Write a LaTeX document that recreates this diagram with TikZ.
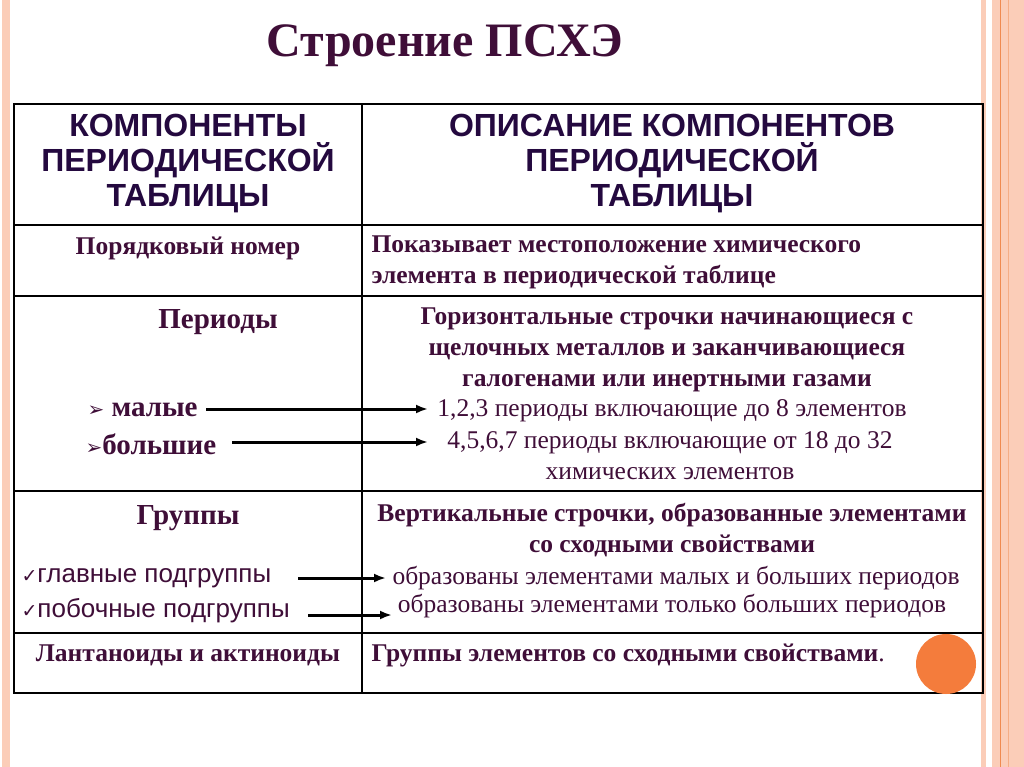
\documentclass[tikz,border=0pt]{standalone}
\usepackage{fontspec}
\setmainfont{Liberation Serif}
\newfontfamily\hsans{Liberation Sans}
\newfontfamily\djv{DejaVu Sans}
\usetikzlibrary{arrows.meta}
\definecolor{txt}{HTML}{3F0E38}
\definecolor{hdr}{HTML}{24093F}
\definecolor{peach}{HTML}{FBCDB8}
\definecolor{orng}{HTML}{F08A50}
\definecolor{circ}{HTML}{F47C3C}
\tikzset{
 tb/.style={font=\bfseries\fontsize{25.5}{31}\selectfont, text=txt, align=center},
 tr/.style={font=\fontsize{25.5}{31}\selectfont, text=txt, align=center},
 th/.style={font=\hsans\bfseries\fontsize{32}{35}\selectfont, text=hdr, align=center},
 ts/.style={font=\hsans\fontsize{26}{30}\selectfont, text=txt, anchor=west},
 big/.style={font=\bfseries\fontsize{29}{32}\selectfont},
 arr/.style={-{Latex[length=12pt,width=9pt]}, line width=3pt, black},
 grid/.style={line width=1.3pt, black}
}
\begin{document}
\begin{tikzpicture}[x=1pt,y=-1pt]
\useasboundingbox (0,0) rectangle (1024,767);
\fill[white] (0,0) rectangle (1024,767);
% decorative stripes
\fill[peach] (2,0) rectangle (10,767);
\fill[peach] (981,0) rectangle (986,767);
\fill[peach] (992,0) rectangle (1024,767);
\draw[orng, line width=0.8pt] (1000,0) -- (1000,767);
\draw[orng!70, line width=0.6pt] (1008,0) -- (1008,767);
% title
\node[font=\bfseries\fontsize{48}{52}\selectfont, text=txt] (title) at (445,46) {Строение ПСХЭ};
% table
\draw[grid] (14,104) rectangle (983,693);
\draw[grid] (362,104) -- (362,693);
\foreach \y in {225,296,491,633} \draw[grid] (14,\y) -- (983,\y);
% header
\node[th] (h1) at (188,164) {КОМПОНЕНТЫ\\ПЕРИОДИЧЕСКОЙ\\ТАБЛИЦЫ};
\node[th] (h2) at (672,164) {ОПИСАНИЕ КОМПОНЕНТОВ\\ПЕРИОДИЧЕСКОЙ\\ТАБЛИЦЫ};
% row 1
\node[tb] (r1l) at (188,248) {Порядковый номер};
\node[tb, align=left, anchor=west] (r1r) at (368,262) {Показывает местоположение химического\\элемента в периодической таблице};
% row 2
\node[tb, big] (per) at (218,322) {Периоды};
\node[tb] (per2) at (667,350) {Горизонтальные строчки начинающиеся с\\щелочных металлов и заканчивающиеся\\галогенами или инертными газами};
\node[tb, big, anchor=west] (mal) at (84,410) {{\djv\fontsize{20}{20}\selectfont ➢} малые};
\node[tb, big, anchor=west] (bol) at (82,444) {{\djv\fontsize{20}{20}\selectfont ➢}большие};
\node[tr] (p1) at (672,411) {1,2,3 периоды включающие до 8 элементов};
\node[tr] (p2) at (670,456) {4,5,6,7 периоды включающие от 18 до 32\\химических элементов};
\draw[arr] (206,409) -- (428,409);
\draw[arr] (232,442) -- (428,442);
% row 3
\node[tb, big] (gr) at (188,518) {Группы};
\node[tb] (gr2) at (672,530) {Вертикальные строчки, образованные элементами\\со сходными свойствами};
\node[ts] (g1) at (18,578) {{\djv\fontsize{19}{19}\selectfont ✓}главные подгруппы};
\node[ts] (g2) at (18,611) {{\djv\fontsize{19}{19}\selectfont ✓}побочные подгруппы};
\node[tr] (g1r) at (676,578) {образованы элементами малых и больших периодов};
\node[tr] (g2r) at (672,606) {образованы элементами только больших периодов};
\draw[arr] (298,578) -- (386,578);
\draw[arr] (308,615) -- (392,615);
% row 4
\node[tb] (lan) at (188,655) {Лантаноиды и актиноиды};
\node[tb, anchor=west] (lanr) at (368,655) {Группы элементов со сходными свойствами\textmd{.}};
\fill[circ] (946,664) circle (30);
\end{tikzpicture}
\end{document}
